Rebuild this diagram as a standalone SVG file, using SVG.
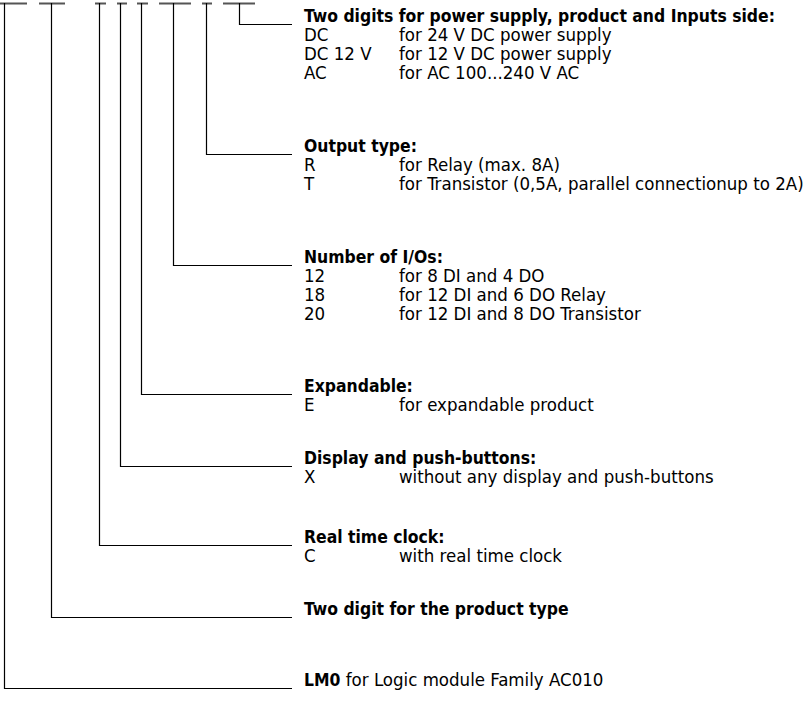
<svg xmlns="http://www.w3.org/2000/svg" width="810" height="704" viewBox="0 0 810 704">
<style>
text{font-family:"DejaVu Sans Condensed","Liberation Sans",sans-serif;font-size:18.5px;fill:#000}
.b{font-weight:bold;font-size:17.4px}
.ln{fill:none;stroke:#000;stroke-width:1.2}
.bar{fill:none;stroke:#555;stroke-width:2}
</style>
<rect width="810" height="704" fill="#fff"/>
<g id="connectors">
<path class="bar" d="M0 3.5H27M39 3.5H65M95 3.5H106M117 3.5H127M137 3.5H148M159 3.5H191M202 3.5H212M223 3.5H255"/>
<path class="ln" d="M239.5 3V24.5H292"/>
<path class="ln" d="M206.5 3V154.5H292"/>
<path class="ln" d="M173.5 3V265.5H292"/>
<path class="ln" d="M141.5 3V394.5H292"/>
<path class="ln" d="M120.5 3V466.5H292"/>
<path class="ln" d="M99.5 3V545.5H292"/>
<path class="ln" d="M51.5 3V617.5H292"/>
<path class="ln" d="M4.5 3V688.5H292"/>
</g>
<g id="power">
<text class="b" x="304" y="22">Two digits for power supply, product and Inputs side:</text>
<text x="304" y="41">DC</text><text x="399" y="41">for 24 V DC power supply</text>
<text x="304" y="60">DC 12 V</text><text x="399" y="60">for 12 V DC power supply</text>
<text x="304" y="79">AC</text><text x="399" y="79">for AC 100...240 V AC</text>
</g>
<g id="output">
<text class="b" x="304" y="152">Output type:</text>
<text x="304" y="171">R</text><text x="399" y="171">for Relay (max. 8A)</text>
<text x="304" y="190">T</text><text x="399" y="190">for Transistor (0,5A, parallel connectionup to 2A)</text>
</g>
<g id="ios">
<text class="b" x="304" y="263">Number of I/Os:</text>
<text x="304" y="282">12</text><text x="399" y="282">for 8 DI and 4 DO</text>
<text x="304" y="301">18</text><text x="399" y="301">for 12 DI and 6 DO Relay</text>
<text x="304" y="320">20</text><text x="399" y="320">for 12 DI and 8 DO Transistor</text>
</g>
<g id="expandable">
<text class="b" x="304" y="392">Expandable:</text>
<text x="304" y="411">E</text><text x="399" y="411">for expandable product</text>
</g>
<g id="display">
<text class="b" x="304" y="464">Display and push-buttons:</text>
<text x="304" y="483">X</text><text x="399" y="483">without any display and push-buttons</text>
</g>
<g id="clock">
<text class="b" x="304" y="543">Real time clock:</text>
<text x="304" y="562">C</text><text x="399" y="562">with real time clock</text>
</g>
<g id="product">
<text class="b" x="304" y="615">Two digit for the product type</text>
</g>
<g id="family">
<text x="304" y="686"><tspan class="b">LM0</tspan> for Logic module Family AC010</text>
</g>
</svg>
